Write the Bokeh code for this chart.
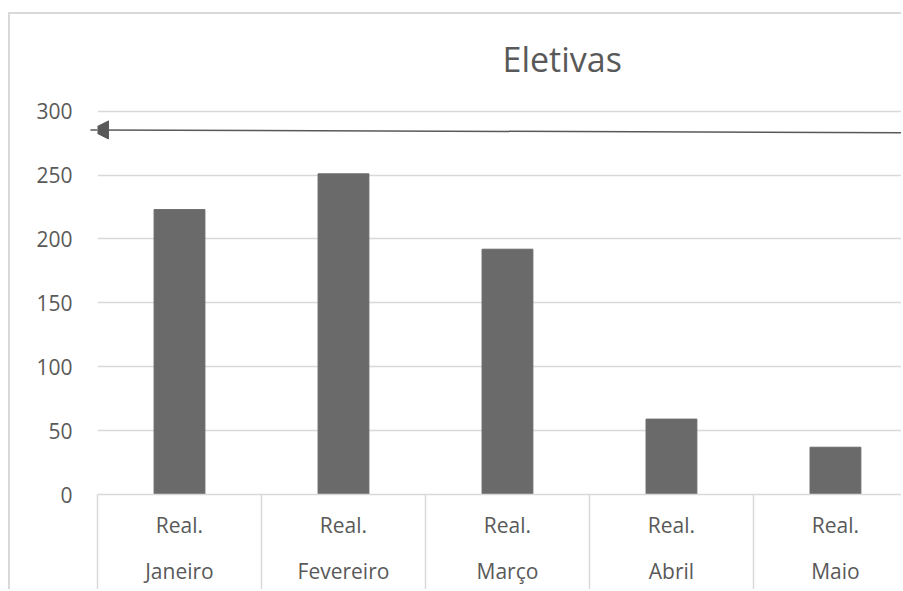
from bokeh.plotting import figure
from bokeh.models import (Range1d, FixedTicker, LinearAxis, Arrow, NormalHead, Title)
from bokeh.embed import file_html
from bokeh.resources import INLINE

# Data
months = ["Janeiro", "Fevereiro", "Março", "Abril", "Maio"]
series_label = "Real."
real_values = [223, 251, 192, 59, 37]
y_ticks = [0, 50, 100, 150, 200, 250, 300]
arrow_level = [283.0, 285.4]  # right end, left tip

positions = [i + 0.5 for i in range(len(months))]
boundaries = list(range(len(months) + 1))

FONT = "Open Sans"
TXT = "#595959"
GRID = "#d9d9d9"
SEP_LEN = 110  # length of the category separators below the axis line

p = figure(
    width=893, height=577,
    x_range=Range1d(0, 4.915), y_range=Range1d(0, 308.4),
    x_axis_location=None,
    output_backend="svg", toolbar_location=None,
    min_border_left=87, min_border_right=0,
    min_border_top=86, min_border_bottom=97,
)
p.margin = (12, 0, 0, 8)
p.styles = {"border-top": f"2px solid {GRID}", "border-left": f"2px solid {GRID}"}
p.outline_line_color = None
p.background_fill_color = "white"
p.border_fill_color = "white"

# Title
t = Title(text="Eletivas", align="left", offset=405,
          text_font=FONT, text_font_size="34px", text_font_style="normal",
          text_color=TXT, standoff=37)
p.add_layout(t, "above")

# Bars
p.vbar(x=positions, top=real_values, width=0.31, bottom=0,
       fill_color="#6a6a6a", line_color="#6a6a6a", line_width=1)

# Y axis
p.yaxis.ticker = FixedTicker(ticks=y_ticks)
p.yaxis.axis_line_color = None
p.yaxis.major_tick_line_color = None
p.yaxis.minor_tick_line_color = None
p.yaxis.major_label_standoff = 19
p.yaxis.major_label_text_font = FONT
p.yaxis.major_label_text_font_size = "21px"
p.yaxis.major_label_text_color = TXT

p.ygrid.ticker = FixedTicker(ticks=y_ticks)
p.ygrid.grid_line_color = GRID
p.ygrid.grid_line_width = 1.5
p.xgrid.visible = False

# Category axis: series level with separators
ax1 = LinearAxis(ticker=FixedTicker(ticks=positions, minor_ticks=boundaries))
ax1.major_label_overrides = {pos: series_label for pos in positions}
ax1.axis_line_color = GRID
ax1.axis_line_width = 1.5
ax1.major_tick_line_color = None
ax1.minor_tick_in = 0
ax1.minor_tick_out = SEP_LEN
ax1.minor_tick_line_color = GRID
ax1.minor_tick_line_width = 1.5
ax1.major_label_standoff = 16 - SEP_LEN
ax1.major_label_text_font = FONT
ax1.major_label_text_font_size = "21px"
ax1.major_label_text_color = TXT
p.add_layout(ax1, "below")

# Category axis: month level
ax2 = LinearAxis(ticker=FixedTicker(ticks=positions, minor_ticks=[]))
ax2.major_label_overrides = {pos: m for pos, m in zip(positions, months)}
ax2.axis_line_color = None
ax2.major_tick_line_color = None
ax2.minor_tick_line_color = None
ax2.major_label_standoff = 9
ax2.major_label_text_font = FONT
ax2.major_label_text_font_size = "21px"
ax2.major_label_text_color = TXT
p.add_layout(ax2, "below")

# Arrow across the top of the chart
p.add_layout(Arrow(
    end=NormalHead(size=18, fill_color="#595959", line_color="#595959"),
    x_start=5.2, y_start=arrow_level[0], x_end=-0.043, y_end=arrow_level[1],
    line_color="#595959", line_width=1.5))

open("out.html", "w").write(file_html(p, INLINE))
